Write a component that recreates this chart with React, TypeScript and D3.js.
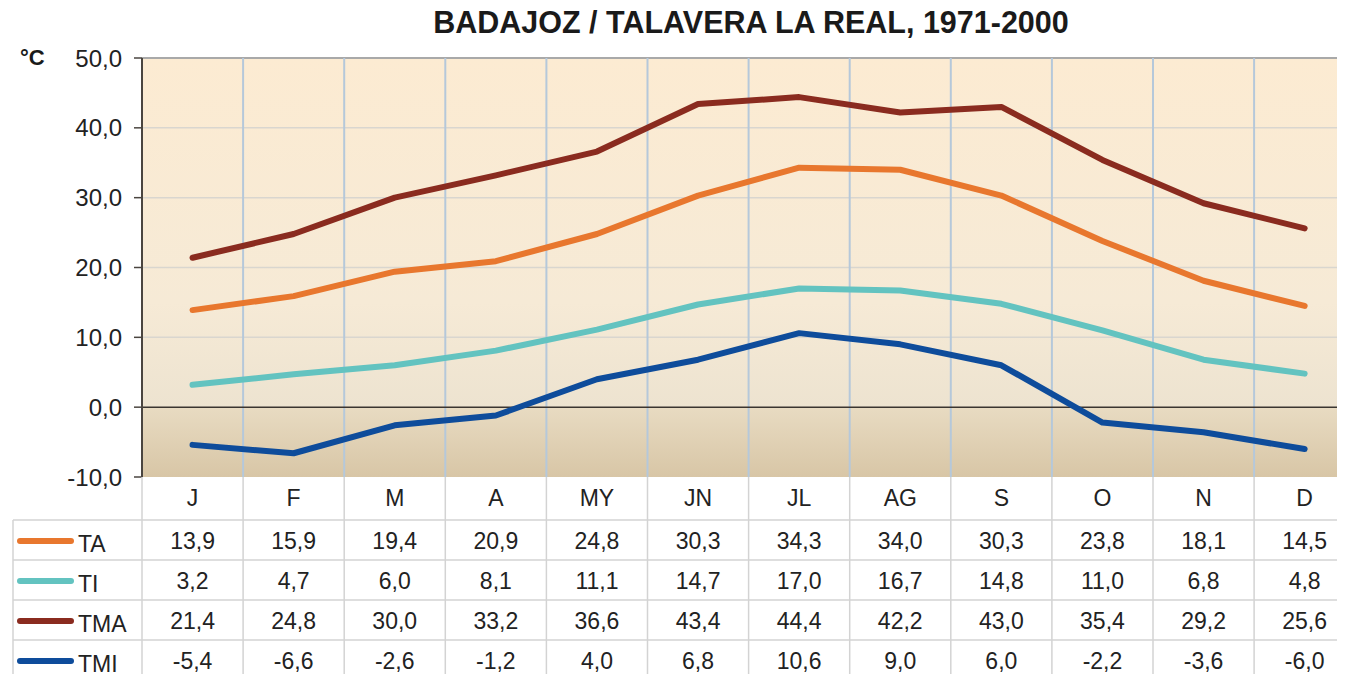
import React from "react";
import * as d3 from "d3";

const months = ["J", "F", "M", "A", "MY", "JN", "JL", "AG", "S", "O", "N", "D"];
const ta = [13.9, 15.9, 19.4, 20.9, 24.8, 30.3, 34.3, 34.0, 30.3, 23.8, 18.1, 14.5];
const ti = [3.2, 4.7, 6.0, 8.1, 11.1, 14.7, 17.0, 16.7, 14.8, 11.0, 6.8, 4.8];
const tma = [21.4, 24.8, 30.0, 33.2, 36.6, 43.4, 44.4, 42.2, 43.0, 35.4, 29.2, 25.6];
const tmi = [-5.4, -6.6, -2.6, -1.2, 4.0, 6.8, 10.6, 9.0, 6.0, -2.2, -3.6, -6.0];
const yTicks = [-10, 0, 10, 20, 30, 40, 50];

const series = [
  { name: "TA", values: ta, color: "#e8772e" },
  { name: "TI", values: ti, color: "#63c3c0" },
  { name: "TMA", values: tma, color: "#8a2b1f" },
  { name: "TMI", values: tmi, color: "#0e4c9b" },
];

const W = 1345;
const H = 682;
const font = "'Liberation Sans', Arial, sans-serif";
const fmt = (v: number) => v.toFixed(1).replace(".", ",");

export default function App() {
  const left = 142;
  const band = 101.1;
  const x = d3.scaleBand<string>().domain(months).range([left, left + band * months.length]).padding(0);
  const y = d3.scaleLinear().domain([-10, 50]).range([477, 58]);
  const right = left + band * months.length;
  const cx = (m: string) => (x(m) as number) + x.bandwidth() / 2;

  const line = d3
    .line<number>()
    .x((d, i) => cx(months[i]))
    .y((d) => y(d));

  const headTop = y(-10);
  const headBottom = 520;
  const rowH = 40;
  const rowY = (i: number) => headBottom + i * rowH;
  const tableBottom = rowY(series.length);
  const zeroFrac = (y(0) - y(50)) / (y(-10) - y(50));

  return (
    <div style={{ margin: -8, width: W, height: H, background: "#fff", overflow: "hidden" }}>
      <svg width={W} height={H} style={{ display: "block", fontFamily: font }}>
        <defs>
          <linearGradient id="bg" x1="0" y1="0" x2="0" y2="1">
            <stop offset="0%" stopColor="#fcebd2" />
            <stop offset={`${zeroFrac * 100 - 25}%`} stopColor="#f6ead6" />
            <stop offset={`${zeroFrac * 100}%`} stopColor="#ede3d0" />
            <stop offset={`${zeroFrac * 100}%`} stopColor="#e8dbc2" />
            <stop offset="100%" stopColor="#d8c6a6" />
          </linearGradient>
        </defs>

        {/* faint strip on the left edge */}
        <rect x={0} y={0} width={3} height={178} fill="#e2e2e2" />

        <text x={751} y={33} textAnchor="middle" fontSize={30.5} fontWeight="bold" fill="#1a1a1a">
          BADAJOZ / TALAVERA LA REAL, 1971-2000
        </text>

        {/* plot background */}
        <rect x={left} y={y(50)} width={right - left} height={y(-10) - y(50)} fill="url(#bg)" />

        {/* horizontal gridlines */}
        {yTicks.filter((t) => t !== 0 && t !== -10).map((t) => (
          <line key={t} x1={left} x2={right} y1={y(t)} y2={y(t)} stroke={t === 50 ? "#a9a9a9" : "#d9d6cf"} strokeWidth={t === 50 ? 2 : 1.5} />
        ))}

        {/* vertical gridlines */}
        {months.slice(1).map((m) => (
          <line key={m} x1={x(m)} x2={x(m)} y1={y(50)} y2={y(-10)} stroke="#b5c8da" strokeWidth={2} />
        ))}

        {/* zero line */}
        <line x1={left} x2={right} y1={y(0)} y2={y(0)} stroke="#3a3530" strokeWidth={1.5} />

        {/* y axis */}
        <line x1={left} x2={left} y1={y(50)} y2={y(-10)} stroke="#4a4540" strokeWidth={2} />
        {yTicks.map((t) => (
          <g key={t}>
            <line x1={left - 8} x2={left} y1={y(t)} y2={y(t)} stroke="#4a4540" strokeWidth={1.5} />
            <text x={122} y={y(t) + 8.5} textAnchor="end" fontSize={24} fill="#222">
              {fmt(t)}
            </text>
          </g>
        ))}
        <text x={20} y={65} fontSize={22} fontWeight="bold" fill="#1a1a1a">°C</text>

        {/* series lines */}
        {series.map((s) => (
          <path key={s.name} d={line(s.values) as string} fill="none" stroke={s.color} strokeWidth={6} strokeLinecap="round" strokeLinejoin="round" />
        ))}

        {/* table: header row */}
        {months.map((m) => (
          <text key={m} x={cx(m)} y={506} textAnchor="middle" fontSize={23} fill="#222">
            {m}
          </text>
        ))}
        {months.map((m) => (
          <line key={m} x1={x(m)} x2={x(m)} y1={headTop} y2={tableBottom} stroke="#d3d3d3" strokeWidth={1.5} />
        ))}
        <line x1={right} x2={right} y1={headTop} y2={tableBottom} stroke="#d3d3d3" strokeWidth={1.5} />
        <line x1={13} x2={13} y1={headBottom} y2={tableBottom} stroke="#d3d3d3" strokeWidth={1.5} />
        {d3.range(series.length + 1).map((i) => (
          <line key={i} x1={13} x2={right} y1={rowY(i)} y2={rowY(i)} stroke="#d3d3d3" strokeWidth={1.5} />
        ))}

        {/* table rows */}
        {series.map((s, i) => {
          const mid = rowY(i) + rowH / 2;
          return (
            <g key={s.name}>
              <line x1={20} x2={71} y1={mid + 1} y2={mid + 1} stroke={s.color} strokeWidth={6} strokeLinecap="round" />
              <text x={78} y={mid + 12} fontSize={23} fill="#222">{s.name}</text>
              {s.values.map((v, j) => (
                <text key={j} x={cx(months[j])} y={mid + 9} textAnchor="middle" fontSize={23} fill="#222">
                  {fmt(v)}
                </text>
              ))}
            </g>
          );
        })}
      </svg>
    </div>
  );
}
